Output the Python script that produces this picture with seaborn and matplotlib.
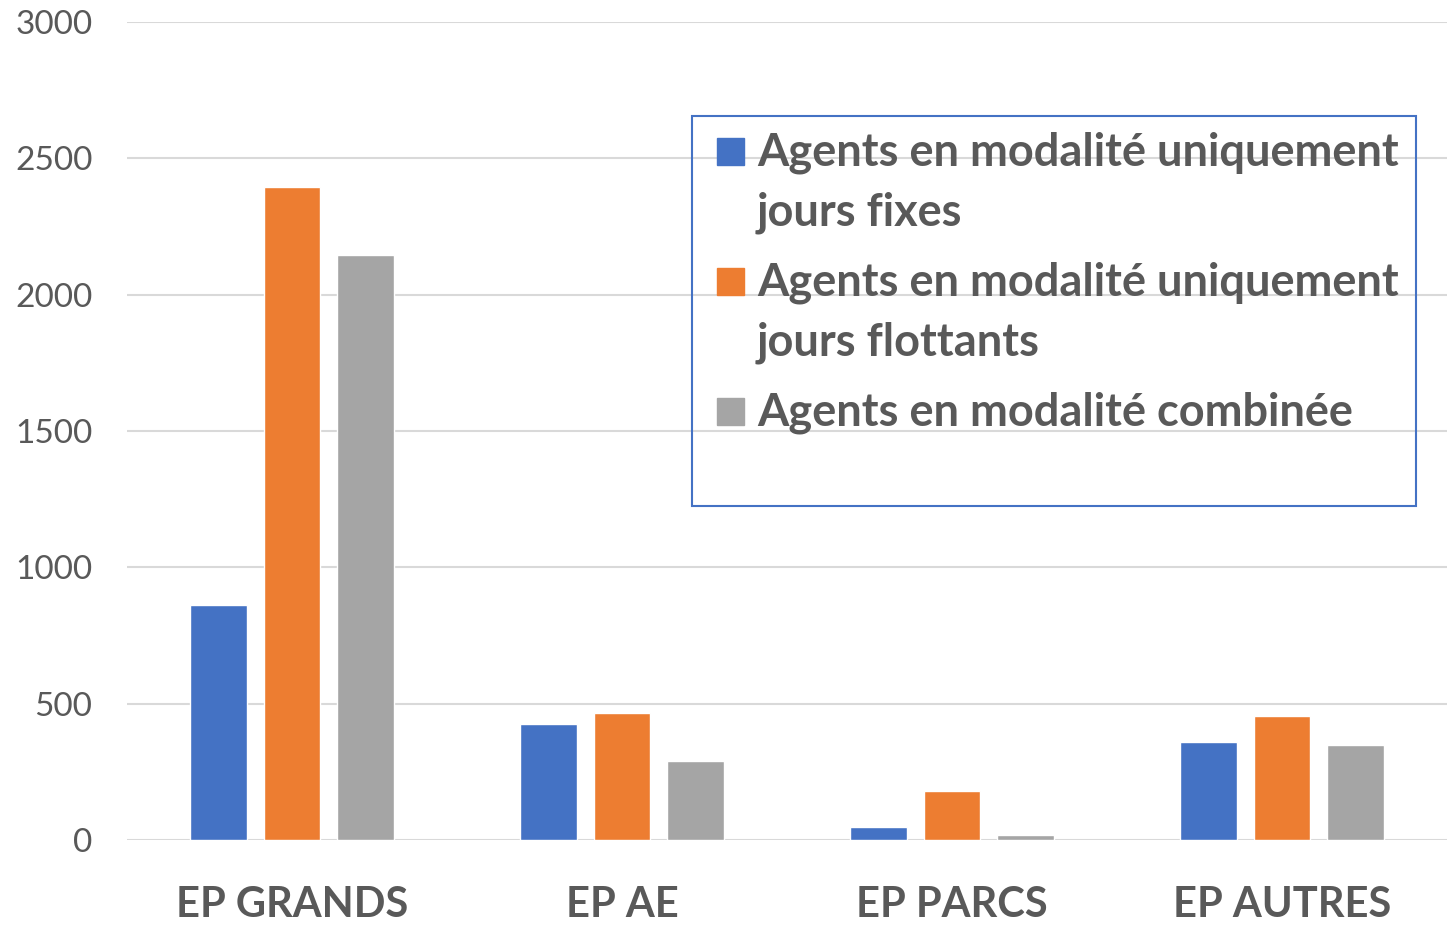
import pandas as pd
import matplotlib.pyplot as plt
import matplotlib.patches as mpatches
import seaborn as sns

# Data
categories = ["EP GRANDS", "EP AE", "EP PARCS", "EP AUTRES"]
series = [
    "Agents en modalité uniquement\njours fixes",
    "Agents en modalité uniquement\njours flottants",
    "Agents en modalité combinée",
]
fixes = [862, 426, 49, 359]
flottants = [2394, 466, 181, 455]
combinee = [2146, 290, 18, 348]
colors = ["#4472C4", "#ED7D31", "#A5A5A5"]

df = pd.DataFrame({
    "Catégorie": categories * 3,
    "Série": [series[0]] * 4 + [series[1]] * 4 + [series[2]] * 4,
    "Valeur": fixes + flottants + combinee,
})

sns.set_theme(style="white")
plt.rcParams["font.family"] = ["Lato", "DejaVu Sans"]
text_color = "#595959"
W, H = 1455, 925

fig = plt.figure(figsize=(W / 100, H / 100), dpi=100)
ax = fig.add_axes([127 / W, 85 / H, 1320 / W, 818 / H])

sns.barplot(
    data=df, x="Catégorie", y="Valeur", hue="Série",
    palette=colors, saturation=1, width=0.664, gap=0.22, ax=ax,
    errorbar=None, legend=False,
)

ax.set_ylim(0, 3000)
ax.set_yticks(range(0, 3001, 500))
ax.set_xlim(-0.5, 3.5)
ax.grid(axis="y", color="#D9D9D9", linewidth=1.5)
ax.set_axisbelow(True)
for s in ax.spines.values():
    s.set_visible(False)
ax.set_xlabel("")
ax.set_ylabel("")
ax.tick_params(axis="y", labelsize=24, colors=text_color, length=0, pad=25)
ax.tick_params(axis="x", labelsize=30, colors=text_color, length=0, pad=33)
for lbl in ax.get_xticklabels():
    lbl.set_fontweight("bold")

# Legend box (Excel style: handle aligned on the first line of each entry)
fig.add_artist(mpatches.Rectangle((692 / W, 1 - 506 / H), 724 / W, 390 / H,
                                  transform=fig.transFigure, fill=False,
                                  edgecolor="#4472C4", linewidth=1.5))
line = 0
for i, (label, c) in enumerate(zip(series, colors)):
    base = 165 + 60 * line + 10 * i
    fig.add_artist(mpatches.Rectangle((717 / W, 1 - base / H), 27 / W, 27 / H,
                                      transform=fig.transFigure, color=c))
    for part in label.split("\n"):
        y = 165 + 60 * line + 10 * i
        fig.text(757 / W, 1 - y / H, part, fontsize=32.5, fontweight="bold",
                 color=text_color, va="baseline", ha="left")
        line += 1

plt.savefig("out.png", dpi=100)
